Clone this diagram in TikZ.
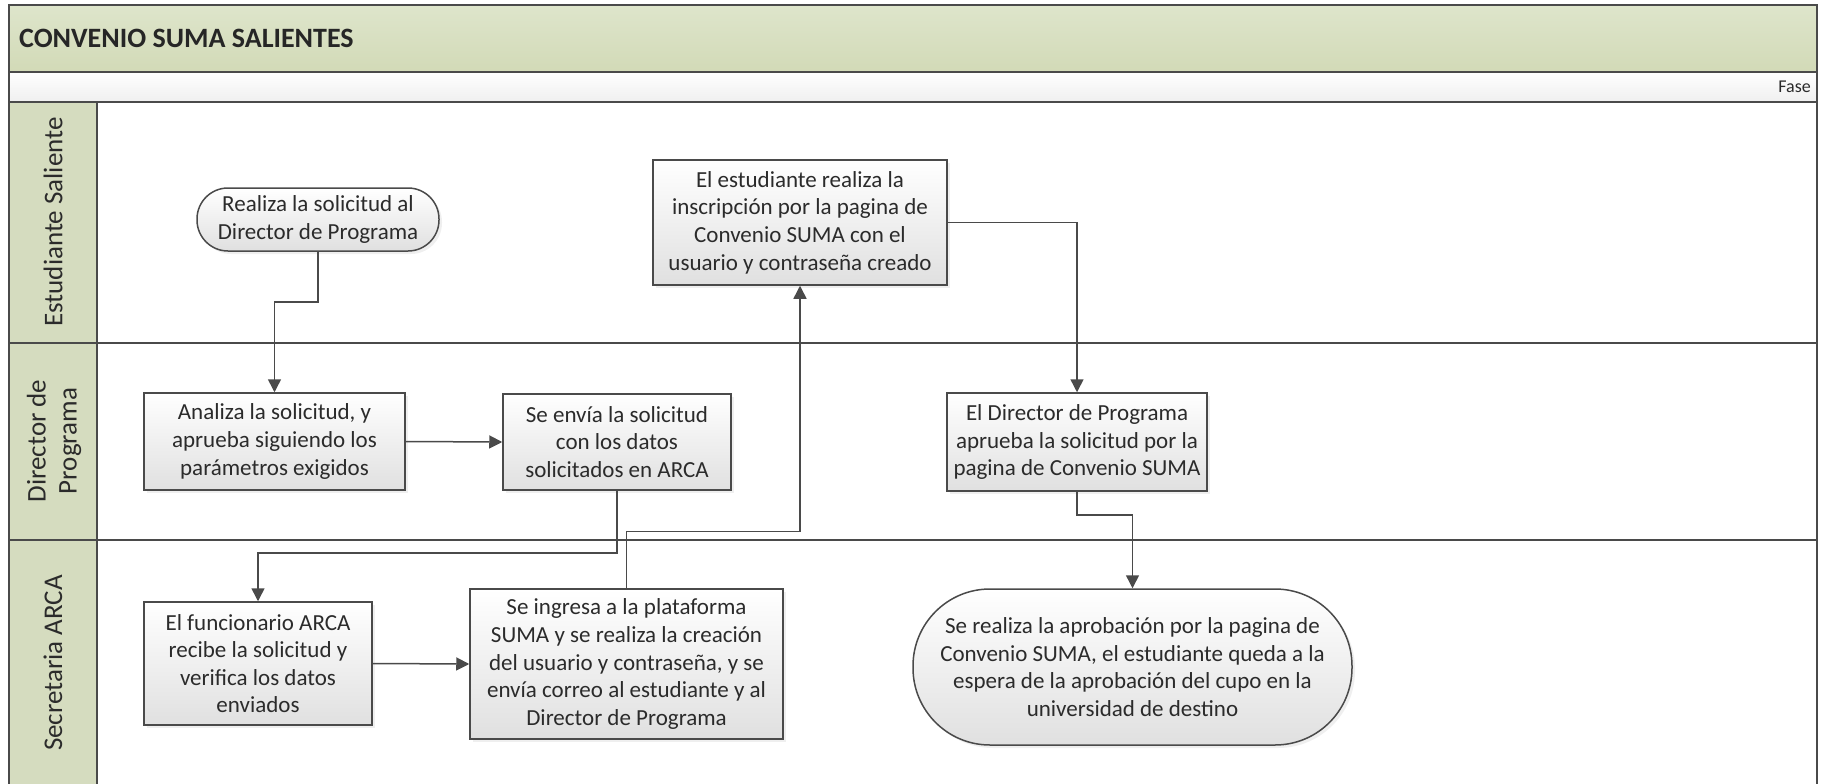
\documentclass[tikz,border=0pt]{standalone}
\usepackage{fontspec}
\setmainfont{Carlito}
\usetikzlibrary{arrows.meta,shadows}
\definecolor{txt}{HTML}{2B2B2B}
\definecolor{ln}{HTML}{4A4A4A}
\definecolor{hdrtop}{HTML}{DEE5CB}
\definecolor{hdrbot}{HTML}{D2DAB7}
\definecolor{lanecol}{HTML}{D5DCBF}
\definecolor{boxbot}{HTML}{E0E0E0}
\definecolor{fasebot}{HTML}{EFEFEF}
\begin{document}
\begin{tikzpicture}[x=1pt,y=-1pt,
  proc/.style={draw=ln, line width=1.5pt, top color=white, bottom color=boxbot, text=txt, align=center, inner sep=0pt,
    font=\fontsize{23}{27.6}\selectfont,
    drop shadow={opacity=0.12, shadow xshift=3pt, shadow yshift=-3pt}},
  conn/.style={draw=ln, line width=1.5pt, -{Triangle[length=13pt,width=13pt]}},
  lanelbl/.style={rotate=90, text=txt, align=center, inner sep=0pt, font=\fontsize{27}{31}\selectfont},
  divider/.style={draw=ln, line width=1.6pt}
]
\useasboundingbox (0,0) rectangle (1823,784);
\begin{scope}
\clip (0,0) rectangle (1823,784);
% bands
\path[top color=hdrtop, bottom color=hdrbot] (9,5) rectangle (1817,72);
\path[top color=white, bottom color=fasebot] (9,72) rectangle (1817,102);
\path[fill=white] (97,102) rectangle (1817,800);
\path[fill=lanecol] (9,102) rectangle (97,800);
% frame and dividers
\draw[divider] (9,800) -- (9,5) -- (1817,5) -- (1817,800);
\draw[divider] (9,72) -- (1817,72);
\draw[divider] (9,102) -- (1817,102);
\draw[divider] (97,102) -- (97,800);
\draw[divider] (9,343) -- (1817,343);
\draw[divider] (9,540) -- (1817,540);
\end{scope}
% header texts
\node[anchor=west, inner sep=0pt, text=black!85, font=\bfseries\fontsize{28}{32}\selectfont] (title) at (19,38) {CONVENIO SUMA SALIENTES};
\node[anchor=east, inner sep=0pt, text=txt, font=\fontsize{18}{22}\selectfont] (fase) at (1811,87) {Fase};
% lane labels
\node[lanelbl] (lane1) at (53,222) {Estudiante Saliente};
\node[lanelbl] (lane2) at (54,441) {Director de\\Programa};
\node[lanelbl] (lane3) at (53,663) {Secretaria ARCA};
% nodes
\node[proc, minimum width=242pt, minimum height=63pt, rounded corners=31pt] (start) at (318,219.5) {Realiza la solicitud al\\Director de Programa};
\node[proc, minimum width=261pt, minimum height=97pt] (analiza) at (274.5,441.5) {Analiza la solicitud, y\\aprueba siguiendo los\\parámetros exigidos};
\node[proc, minimum width=228pt, minimum height=96pt] (envia) at (617,442) {Se envía la solicitud\\con los datos\\solicitados en ARCA};
\node[proc, minimum width=228pt, minimum height=123pt] (func) at (258,663.5) {El funcionario ARCA\\recibe la solicitud y\\verifica los datos\\enviados};
\node[proc, minimum width=313pt, minimum height=150pt] (ingresa) at (626.5,664) {Se ingresa a la plataforma\\SUMA y se realiza la creación\\del usuario y contraseña, y se\\envía correo al estudiante y al\\Director de Programa};
\node[proc, minimum width=294pt, minimum height=125pt] (estud) at (800,222.5) {El estudiante realiza la\\inscripción por la pagina de\\Convenio SUMA con el\\usuario y contraseña creado};
\node[proc, minimum width=260pt, minimum height=98pt] (aprueba) at (1077,442) {El Director de Programa\\aprueba la solicitud por la\\pagina de Convenio SUMA};
\node[proc, minimum width=439pt, minimum height=156pt, rounded corners=77pt] (result) at (1132.5,667) {Se realiza la aprobación por la pagina de\\Convenio SUMA, el estudiante queda a la\\espera de la aprobación del cupo en la\\universidad de destino};
% connectors
\draw[conn] (start.south) -- ++(0,50) -| (analiza.north);
\draw[conn] (analiza.east) -- (envia.west);
\draw[conn] (envia.south) -- ++(0,62) -| (func.north);
\draw[conn] (func.east) -- (ingresa.west);
\draw[conn] (ingresa.north) -- ++(0,-57) -| (estud.south);
\draw[conn] (estud.east) -| (aprueba.north);
\draw[conn] (aprueba.south) -- ++(0,23) -| (result.north);
\end{tikzpicture}
\end{document}
